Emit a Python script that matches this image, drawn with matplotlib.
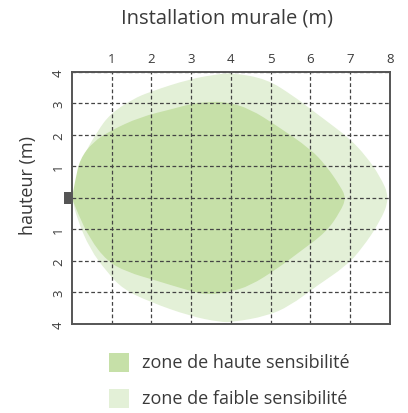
import matplotlib
matplotlib.use("Agg")
import matplotlib.pyplot as plt
from matplotlib.patches import PathPatch, Rectangle
from matplotlib.path import Path

plt.rcParams['font.family'] = ['Open Sans', 'DejaVu Sans']

# zone outlines (x in m, y in m); (0,0) is listed twice to keep the tip sharp
faible_x = [0.0, 0.0, 0.13, 0.28, 0.63, 0.96, 1.53, 1.96, 2.97, 3.72, 4.05, 4.9, 5.57, 6.0, 6.57,
            7.0, 7.4, 7.75, 8.0, 7.75, 7.3, 6.9, 6.15, 5.48, 4.9, 4.05, 3.72, 2.97, 1.96,
            1.28, 0.88, 0.45, 0.13]
faible_y = [0.0, 0.0, 0.6, 1.33, 2.1, 2.67, 3.14, 3.37, 3.78, 3.94, 3.97, 3.78, 3.24, 2.83, 2.29,
            1.87, 1.33, 0.7, 0.0, -0.76, -1.6, -2.16, -2.8, -3.43, -3.75, -3.94, -3.94, -3.75,
            -3.3, -2.89, -2.35, -1.62, -0.67]

haute_x = [0.0, 0.0, 0.08, 0.2, 0.53, 0.96, 1.71, 2.54, 2.97, 3.4, 3.9, 4.48, 5.16, 6.0, 6.4,
           6.75, 6.9, 6.75, 6.4, 5.73, 5.16, 4.48, 3.97, 3.4, 2.97, 2.14, 1.38, 0.88, 0.45, 0.13]
haute_y = [0.0, 0.0, 0.55, 1.24, 1.78, 2.13, 2.57, 2.83, 2.98, 3.05, 3.05, 2.83, 2.29, 1.56, 1.02,
           0.38, 0.0, -0.44, -1.08, -1.71, -2.25, -2.79, -2.98, -3.08, -2.95, -2.63, -2.35,
           -2.0, -1.3, -0.44]

x_ticks = [1, 2, 3, 4, 5, 6, 7, 8]
y_ticks = [4, 3, 2, 1, 0, -1, -2, -3, -4]
y_labels = ['4', '3', '2', '1', '', '1', '2', '3', '4']

c_haute = '#c6e0a8'
c_faible = '#e3f0d7'
txt = '#3a3a3a'


def smooth_path(xs, ys):
    # closed quadratic spline: the read points act as control points
    pts = list(zip(xs, ys))
    n = len(pts)
    mid = lambda a, b: ((a[0] + b[0]) / 2, (a[1] + b[1]) / 2)
    verts = [mid(pts[-1], pts[0])]
    codes = [Path.MOVETO]
    for i in range(n):
        verts += [pts[i], mid(pts[i], pts[(i + 1) % n])]
        codes += [Path.CURVE3, Path.CURVE3]
    return Path(verts, codes)


fig = plt.figure(figsize=(4.08, 4.14), dpi=100)
ax = fig.add_axes([0.1765, 0.215, 0.779, 0.6087])

ax.add_patch(PathPatch(smooth_path(faible_x, faible_y), fc=c_faible, ec='none', zorder=1))
ax.add_patch(PathPatch(smooth_path(haute_x, haute_y), fc=c_haute, ec='none', zorder=2))

ax.set_xlim(0, 8)
ax.set_ylim(-4, 4)
ax.set_xticks(x_ticks)
ax.set_yticks(y_ticks)
ax.set_yticklabels(y_labels, rotation=90, va='center')
ax.xaxis.tick_top()
ax.tick_params(length=0, labelsize=9.5, labelcolor=txt, pad=5)
ax.grid(True, ls=(0, (3, 2)), color='#444444', lw=0.9, zorder=3)
ax.set_axisbelow(False)
for s in ax.spines.values():
    s.set_color('#555555')
    s.set_linewidth(1.4)
    s.set_zorder(4)

# sensor mark
ax.add_patch(Rectangle((-0.19, -0.19), 0.19, 0.38, fc='#555555', ec='none', clip_on=False, zorder=5))

ax.set_ylabel('hauteur (m)', fontsize=13, color=txt)
ax.yaxis.set_label_coords(-0.11, 0.555)
fig.text(0.556, 0.955, 'Installation murale (m)', fontsize=14.5, color=txt, ha='center', va='center')

# legend
for i, (c, lab) in enumerate([(c_haute, 'zone de haute sensibilité'),
                              (c_faible, 'zone de faible sensibilité')]):
    yb = 1 - (373 + i * 36) / 414
    fig.add_artist(Rectangle((109 / 408, yb), 20 / 408, 19 / 414, fc=c, ec='none',
                             transform=fig.transFigure))
    fig.text(142 / 408, yb + 9.5 / 414, lab, fontsize=13, color=txt, va='center')

fig.savefig('out.png', dpi=100)
